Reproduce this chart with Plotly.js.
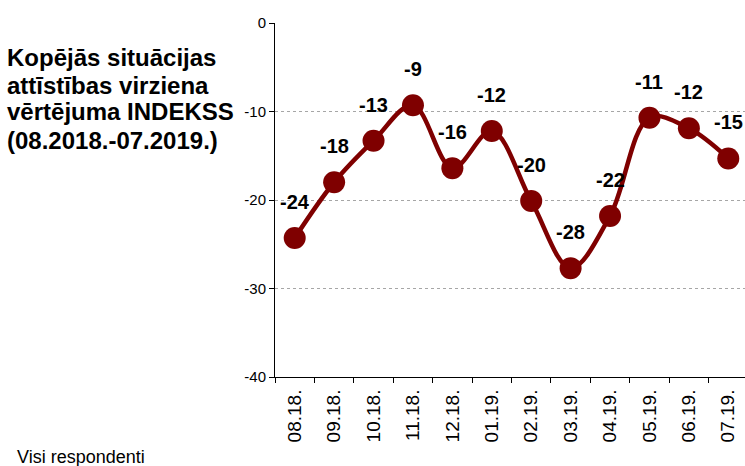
<!DOCTYPE html>
<html><head><meta charset="utf-8">
<script src="https://cdn.plot.ly/plotly-3.0.1.min.js"></script>
<style>html,body{margin:0;background:#fff;overflow:hidden}#c{width:748px;height:466px}</style>
</head><body><div id="c"></div>
<script>
const categories = ["08.18.","09.18.","10.18.","11.18.","12.18.","01.19.","02.19.","03.19.","04.19.","05.19.","06.19.","07.19."];
const values = [-24.3, -18.0, -13.3, -9.3, -16.4, -12.2, -20.1, -27.7, -21.8, -10.7, -11.9, -15.3];
const labels = ["-24","-18","-13","-9","-16","-12","-20","-28","-22","-11","-12","-15"];
const yTicks = [0, -10, -20, -30, -40];
const titleLines = ["Kopējās situācijas", "attīstības virziena", "vērtējuma INDEKSS", "(08.2018.-07.2019.)"];
const footer = "Visi respondenti";

const L = 275, W = 748, T = 23, B = 89, H = 466;
const pw = W - L, ph = H - T - B;
const px2x = p => (p - L) / pw;
const py2y = p => (H - B - p) / ph;

const color = "#7f0000";
const trace = {
  x: categories, y: values, type: "scatter", mode: "lines+markers",
  line: {color: color, width: 4.5, shape: "spline", smoothing: 1},
  marker: {color: color, size: 22},
  hoverinfo: "skip"
};
const annotations = categories.map((c, i) => ({
  x: c, y: values[i], xref: "x", yref: "y", text: "<b>" + labels[i] + "</b>", showarrow: false,
  yshift: 36, font: {family: "Arial, Liberation Sans", size: 20, color: "#000"}
}));
const titleMid = [57.7, 85, 112, 140];
titleLines.forEach((t, i) => annotations.push({
  xref: "paper", yref: "paper", x: px2x(5), y: py2y(titleMid[i]), xanchor: "left", yanchor: "middle",
  showarrow: false, text: "<b>" + t + "</b>",
  font: {family: "Arial, Liberation Sans", size: 24, color: "#000"}
}));
annotations.push({
  xref: "paper", yref: "paper", x: px2x(15), y: py2y(457), xanchor: "left", yanchor: "middle",
  showarrow: false, text: footer,
  font: {family: "Arial, Liberation Sans", size: 18, color: "#000"}
});
const layout = {
  width: W, height: H,
  margin: {l: L, r: 0, t: T, b: B},
  paper_bgcolor: "#fff", plot_bgcolor: "#fff",
  showlegend: false,
  font: {family: "Arial, Liberation Sans", color: "#000"},
  xaxis: {
    type: "category", tickangle: -90, tickson: "boundaries", range: [-0.5, 11.5],
    ticks: "outside", ticklen: 5, tickcolor: "#000", ticklabelstandoff: 4,
    showline: true, linecolor: "#000", linewidth: 1, showgrid: false,
    tickfont: {size: 19}, fixedrange: true
  },
  yaxis: {
    range: [-40, 0], tickvals: yTicks, ticktext: yTicks.map(String),
    ticks: "outside", ticklen: 5, tickcolor: "#000",
    showline: true, linecolor: "#000", linewidth: 1,
    showgrid: true, gridcolor: "#a6a6a6", griddash: "dot", gridwidth: 1,
    zeroline: false, tickfont: {size: 15}, fixedrange: true
  },
  annotations: annotations
};
Plotly.newPlot("c", [trace], layout, {displayModeBar: false, staticPlot: true});
</script></body></html>
